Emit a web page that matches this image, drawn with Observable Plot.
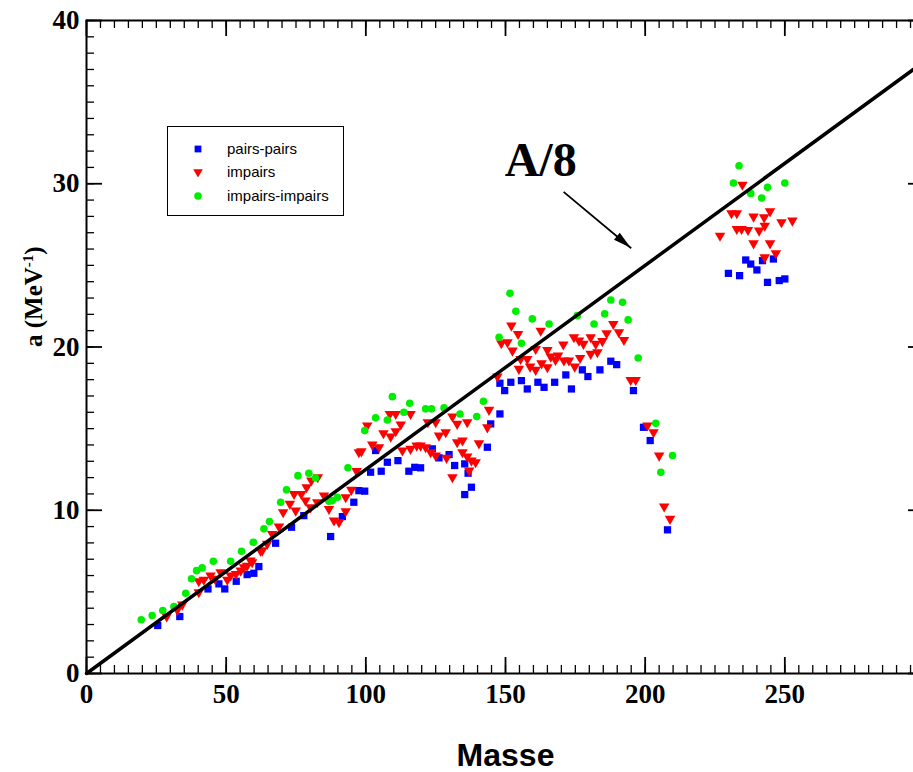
<!DOCTYPE html>
<html><head><meta charset="utf-8">
<script src="https://cdn.jsdelivr.net/npm/d3@7"></script>
<script src="https://cdn.jsdelivr.net/npm/@observablehq/plot@0.6"></script>
<style>
body{margin:0;background:#fff;}
#wrap{position:relative;width:913px;height:772px;overflow:hidden;background:#fff;}
#legend{position:absolute;left:167px;top:126px;width:177px;height:90px;border:1.5px solid #000;box-sizing:border-box;background:#fff;font-family:"Liberation Sans",Arial,sans-serif;font-size:15px;}
#legend .row{position:absolute;left:0;height:20px;line-height:20px;}
#legend svg{position:absolute;left:20px;top:0;}
#legend span{position:absolute;left:59px;white-space:nowrap;}
</style></head>
<body><div id="wrap"><div id="chart"></div><div id="legend"></div></div>
<script>
// Série "pairs-pairs" : [Masse A, a (MeV^-1)]
const pairsPairs = [[25.5,2.94],[33.4,3.49],[43.5,5.18],[47.4,5.49],[49.5,5.18],[53.6,5.65],[57.5,6.06],[59.9,6.14],[61.7,6.55],[67.7,7.98],[73.4,8.96],[77.8,9.67],[87.4,8.39],[91.6,9.61],[95.7,10.49],[97.5,11.2],[99.6,11.17],[101.7,12.33],[103.5,13.66],[105.5,12.39],[107.7,12.94],[111.5,13.04],[115.4,12.39],[117.5,12.63],[119.6,12.6],[123.8,13.76],[126.2,13.21],[129.8,13.41],[131.8,12.74],[135.4,12.84],[136.6,12.27],[137.8,11.41],[135.4,10.96],[143.5,13.86],[144.7,15.29],[148,15.9],[148,17.78],[149.7,17.33],[151.9,17.84],[155.7,17.94],[157.8,17.43],[161.6,17.84],[163.8,17.53],[167.6,17.84],[171.6,18.29],[173.6,17.43],[177.5,18.6],[179.5,18.19],[183.8,18.6],[187.7,19.13],[189.8,18.92],[195.8,17.33],[199.4,15.08],[201.8,14.27],[208,8.8],[229.8,24.51],[233.8,24.37],[236,25.33],[237.8,25.08],[240,24.72],[242,25.29],[245.9,25.39],[243.8,23.96],[248,24.07],[250,24.17]];
// Série "impairs"
const impairs = [[28.7,3.49],[32.5,3.9],[34.3,4.22],[40.2,4.98],[40.2,5.65],[42,5.74],[44.4,6.0],[46,5.8],[48,6.2],[50.4,5.74],[51.6,6.0],[53.5,6.1],[55.2,6.3],[56.4,6.51],[57.5,6.6],[58.7,6.92],[59.3,6.82],[62.3,7.53],[62.9,7.53],[64.7,7.94],[66.5,8.55],[68.9,9.0],[70.4,9.88],[72.8,10.39],[74.3,11.0],[74.9,9.98],[76.9,11.0],[78.4,10.6],[78.8,11.41],[80.5,11.82],[82.8,12.02],[80.2,10.18],[82.6,10.49],[85,10.9],[86.8,10.08],[88.6,9.37],[90.4,9.27],[92.8,9.94],[92.8,10.8],[94.8,11.25],[96.7,12.4],[97.5,13.55],[98.4,13.61],[100.5,15.19],[102.3,14.02],[104.7,13.86],[106.3,14.72],[108.6,15.9],[108.9,14.51],[110.7,15.9],[110.7,14.84],[112.5,15.25],[113.1,13.66],[116,15.9],[116,13.76],[118.2,13.96],[119.6,13.96],[121.4,13.86],[122.2,15.39],[125,15.39],[123.2,13.55],[125,13.35],[126.2,14.57],[128.6,14.78],[128.9,13.21],[131,15.74],[132.7,15.29],[132.7,14.17],[134.6,14.27],[134.6,13.55],[136.3,15.39],[136.3,13.29],[137.8,13.04],[139.3,12.94],[140.5,14.1],[131,12.02],[137,12.43],[143.5,15.08],[144.1,16.15],[147.1,18.19],[148.5,20.23],[150.7,20.29],[152.1,21.31],[152.5,19.78],[154.5,20.8],[155.4,19.27],[154.8,18.66],[157.8,19.27],[158.8,18.8],[160.8,18.6],[160.8,19.88],[162.6,21.0],[162.9,19.0],[165,18.76],[165,19.82],[166.2,19.41],[167.9,19.21],[168.8,19.47],[170.7,20.15],[170.9,19.17],[172.7,19.17],[174.5,20.6],[174.8,18.8],[176.7,19.33],[176.3,20.39],[177.9,20.19],[180.5,20.6],[180.5,19.58],[182.3,20.19],[182.9,19.68],[184.7,20.36],[186.2,20.84],[188.6,21.41],[190.6,20.9],[192.4,20.43],[194.8,17.98],[196.6,17.98],[200.8,15.19],[203,14.78],[205,13.35],[206.8,10.23],[208.9,9.47],[226.8,26.82],[230.9,28.19],[232.8,28.19],[232.8,27.23],[234.5,27.23],[234.8,29.94],[236.8,27.17],[238.8,27.99],[240.8,27.13],[242.6,27.94],[242.8,27.43],[244.7,28.31],[248.8,27.64],[252.7,27.74],[238.8,26.35],[244.7,26.35],[246.8,25.74],[242.8,25.49]];
// Série "impairs-impairs"
const impairsImpairs = [[19.6,3.29],[23.5,3.55],[27.3,3.86],[31.3,4.1],[35.5,4.92],[37.6,5.8],[39.4,6.3],[41.4,6.47],[45.4,6.88],[51.6,6.88],[55.5,7.49],[59.7,8.04],[63.5,8.86],[65.5,9.31],[69.5,10.49],[71.6,11.25],[75.7,12.12],[79.6,12.27],[82,11.98],[86.8,10.55],[88,10.59],[89.8,10.8],[93.6,12.6],[99.6,14.88],[103.5,15.66],[107.7,15.53],[109.5,16.96],[113.6,16.0],[115.7,16.55],[121.4,16.21],[123.5,16.21],[128,16.27],[133.7,15.9],[139.7,15.74],[142.1,16.68],[147.7,20.6],[151.6,23.29],[153.7,22.19],[155.7,20.23],[159.6,21.72],[165.6,21.41],[175.7,21.92],[181.7,21.41],[185.5,22.03],[187.7,22.88],[191.9,22.74],[193.9,21.66],[197.5,19.33],[203.8,15.33],[205.6,12.33],[209.8,13.35],[231.6,30.05],[233.6,31.1],[237.8,29.41],[241.7,29.13],[243.8,29.78],[250,30.05]];
// Droite A/8
const lineA = [0, 300];
// Graduations
const xTicks = [0, 50, 100, 150, 200, 250];
const yTicks = [0, 10, 20, 30, 40];
const xMinor = d3.range(0, 301, 5);
const yMinor = d3.range(0, 41, 1);
// Annotation
const annotText = [{A: 162.6, a: 30.5, label: "A/8"}];
const annotArrow = [{A1: 170.8, a1: 29.5, A2: 195.0, a2: 26.05}];
const series = [
  {name: "pairs-pairs", color: "#0000ff", symbol: "square"},
  {name: "impairs", color: "#ff0000", symbol: "triangle"},
  {name: "impairs-impairs", color: "#00ee00", symbol: "circle"}
];

const W = 913, H = 772, mL = 86, mT = 20, mB = 99, mR = -11;
const plotH = H - mT - mB, plotW = W - mL - mR;
const serif = "'Liberation Serif','Times New Roman',serif";
const sans = "'Liberation Sans',Arial,sans-serif";

const chart = Plot.plot({
  width: W, height: H,
  marginLeft: mL, marginTop: mT, marginBottom: mB, marginRight: mR,
  x: {domain: [0, 300]},
  y: {domain: [0, 40]},
  style: {fontFamily: serif, background: "white", color: "black"},
  marks: [
    Plot.tickX(xMinor, {x: d => d, insetTop: plotH - 8, stroke: "black", strokeWidth: 1.3}),
    Plot.tickX(xMinor, {x: d => d, insetBottom: plotH - 8, stroke: "black", strokeWidth: 1.3}),
    Plot.tickX(xTicks, {x: d => d, insetTop: plotH - 16, stroke: "black", strokeWidth: 1.8}),
    Plot.tickX(xTicks, {x: d => d, insetBottom: plotH - 16, stroke: "black", strokeWidth: 1.8}),
    Plot.tickY(yMinor, {y: d => d, insetRight: plotW - 8, stroke: "black", strokeWidth: 1.3}),
    Plot.tickY(yMinor, {y: d => d, insetLeft: plotW - 8, stroke: "black", strokeWidth: 1.3}),
    Plot.tickY(yTicks, {y: d => d, insetRight: plotW - 16, stroke: "black", strokeWidth: 1.8}),
    Plot.tickY(yTicks, {y: d => d, insetLeft: plotW - 16, stroke: "black", strokeWidth: 1.8}),
    Plot.axisX({anchor: "bottom", ticks: xTicks, tickSize: 0, tickPadding: 10, fontSize: 27, fontWeight: "bold", label: null}),
    Plot.axisY({anchor: "left", ticks: yTicks, tickSize: 0, tickPadding: 7, fontSize: 27, fontWeight: "bold", label: null}),
    Plot.dot(pairsPairs, {x: d => d[0], y: d => d[1], symbol: "square", r: 4.1, fill: series[0].color}),
    Plot.dot(impairs, {x: d => d[0], y: d => d[1], symbol: "triangle", rotate: 180, r: 3.9, fill: series[1].color}),
    Plot.dot(impairsImpairs, {x: d => d[0], y: d => d[1], symbol: "circle", r: 3.8, fill: series[2].color}),
    Plot.line(lineA, {x: d => d, y: d => d / 8, stroke: "black", strokeWidth: 3.5}),
    Plot.link(annotArrow, {x1: "A1", y1: "a1", x2: "A2", y2: "a2", stroke: "black", strokeWidth: 1.8}),
    Plot.text(annotText, {x: "A", y: "a", text: "label", fontSize: 48, fontWeight: "bold", fontFamily: serif, lineAnchor: "bottom"}),
    Plot.text(["Masse"], {frameAnchor: "bottom", dy: 92, text: d => d, fontSize: 32, fontWeight: "bold", fontFamily: sans}),
    Plot.text(["a (MeV-1)"], {frameAnchor: "left", dx: -53, rotate: -90, text: d => d, fontSize: 25, fontWeight: "bold", fontFamily: serif}),
    Plot.frame({stroke: "black", strokeWidth: 2})
  ]
});
document.getElementById("chart").appendChild(chart);

// pointe de flèche pleine, calculée avec les échelles du graphique
{
  const sx = chart.scale("x"), sy = chart.scale("y");
  const ar = annotArrow[0];
  const x1 = sx.apply(ar.A1), y1 = sy.apply(ar.a1), x2 = sx.apply(ar.A2), y2 = sy.apply(ar.a2);
  const len = Math.hypot(x2 - x1, y2 - y1), ux = (x2 - x1) / len, uy = (y2 - y1) / len;
  const hl = 18, hw = 4.5;
  const bx = x2 - hl * ux, by = y2 - hl * uy;
  d3.select(chart).append("path")
    .attr("d", `M${x2},${y2}L${bx + hw * uy},${by - hw * ux}L${bx - hw * uy},${by + hw * ux}Z`)
    .attr("fill", "black");
}

// exposant dans le titre de l'axe y
d3.select(chart).selectAll("text").filter(function(){ return this.textContent === "a (MeV-1)"; })
  .each(function(){
    const t = d3.select(this);
    t.text("");
    t.append("tspan").text("a (MeV");
    t.append("tspan").attr("font-size", "15").attr("dy", "-9").text("-1");
    t.append("tspan").attr("dy", "9").text(")");
  });

// légende
const legend = d3.select("#legend");
const rowsY = [22, 45, 69];
series.forEach((s, i) => {
  const row = legend.append("div").attr("class", "row").style("top", (rowsY[i] - 10) + "px").style("width", "170px");
  const svg = row.append("svg").attr("width", 20).attr("height", 20);
  const sym = s.symbol === "square" ? d3.symbolSquare : s.symbol === "triangle" ? d3.symbolTriangle : d3.symbolCircle;
  svg.append("path").attr("d", d3.symbol(sym, s.symbol === "triangle" ? 40 : 46)())
    .attr("transform", `translate(10,10)${s.symbol === "triangle" ? " rotate(180)" : ""}`)
    .attr("fill", s.color);
  row.append("span").text(s.name);
});
</script>
</body></html>
